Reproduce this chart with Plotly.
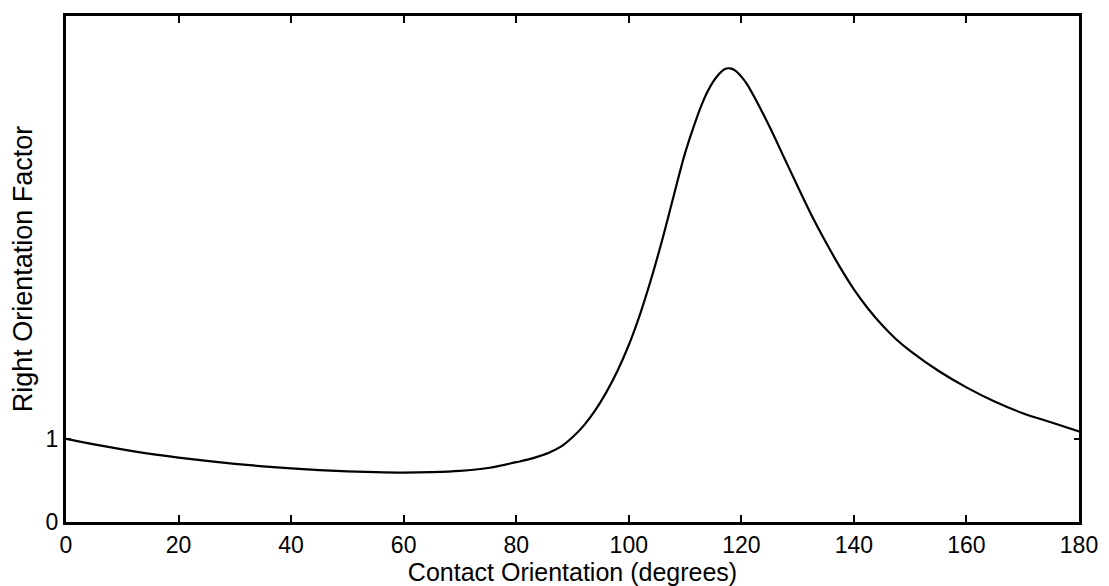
import plotly.graph_objects as go

# Contact orientation (degrees) and right orientation factor
orientation_deg = [0, 5, 10, 15, 20, 25, 30, 35, 40, 45, 50, 55, 60, 65, 70, 75,
                   80, 82, 84, 86, 88, 90, 92, 94, 96, 98, 100, 102, 104, 106, 108,
                   110, 112, 113, 114, 115, 116, 117, 118, 119, 120, 121, 122.5,
                   125, 127.5, 130, 132.5, 135, 137.5, 140, 142.5, 145, 147.5,
                   150, 155, 160, 165, 170, 175, 180]
orientation_factor = [1.00, 0.935, 0.875, 0.82, 0.775, 0.735, 0.70, 0.67, 0.645, 0.625,
                      0.61, 0.60, 0.595, 0.60, 0.615, 0.65,
                      0.72, 0.75, 0.79, 0.84, 0.91, 1.02, 1.16, 1.34, 1.56, 1.82, 2.13,
                      2.50, 2.93, 3.41, 3.93,
                      4.44, 4.85, 5.03, 5.18, 5.30, 5.39, 5.45, 5.46, 5.43, 5.36, 5.27,
                      5.09,
                      4.76, 4.40, 4.04, 3.69, 3.37, 3.07, 2.80, 2.57, 2.37, 2.20,
                      2.06, 1.82, 1.62, 1.45, 1.31, 1.20, 1.09]

x_ticks = [0, 20, 40, 60, 80, 100, 120, 140, 160, 180]
y_ticks = [0, 1]

fig = go.Figure()
fig.add_trace(go.Scatter(
    x=orientation_deg, y=orientation_factor, mode="lines",
    line=dict(color="black", width=2.2, shape="spline", smoothing=1.0),
    showlegend=False, hoverinfo="skip",
))

font = dict(family="Liberation Sans, Arial, Helvetica, sans-serif", color="black")

fig.update_layout(
    width=1101, height=578,
    margin=dict(l=58, r=30, t=5, b=64),
    paper_bgcolor="white", plot_bgcolor="white",
    font=dict(size=23, **font),
)
fig.update_xaxes(
    range=[0, 180], tickvals=x_ticks, ticktext=[str(v) for v in x_ticks],
    ticks="inside", ticklen=7, tickwidth=2, tickcolor="black",
    showline=True, linewidth=3, linecolor="black", mirror="ticks",
    showgrid=False, zeroline=False,
    tickfont=dict(size=23, **font),
    title=dict(text="Contact Orientation (degrees)", font=dict(size=25, **font), standoff=4),
)
fig.update_yaxes(
    range=[0, 6.09], tickvals=y_ticks, ticktext=[str(v) for v in y_ticks],
    ticks="inside", ticklen=5, tickwidth=2, tickcolor="black",
    showline=True, linewidth=3, linecolor="black", mirror="ticks",
    showgrid=False, zeroline=False,
    tickfont=dict(size=23, **font),
    title=dict(text="Right Orientation Factor", font=dict(size=27, **font), standoff=6),
)

fig.write_html("out.html")
